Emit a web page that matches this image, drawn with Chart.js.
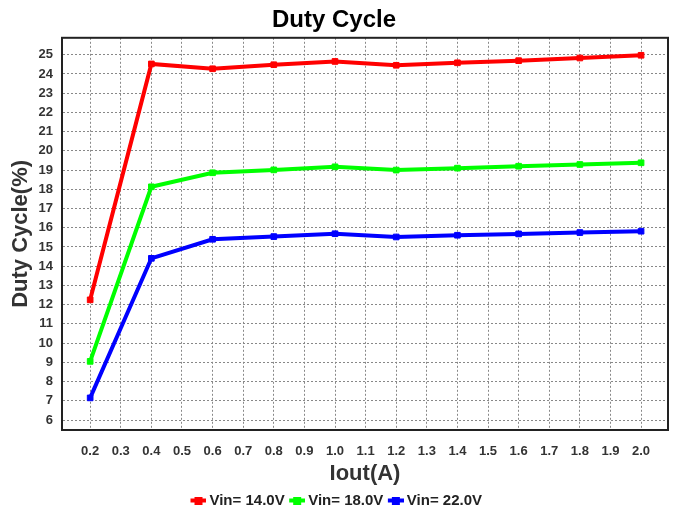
<!DOCTYPE html>
<html>
<head>
<meta charset="utf-8">
<script src="https://cdn.jsdelivr.net/npm/chart.js@4"></script>
<style>
  html, body { margin: 0; padding: 0; background: #fff; }
  #wrap { width: 676px; height: 515px; }
</style>
</head>
<body>
<div id="wrap"><canvas id="chart-duty"></canvas></div>
<script>
// dados
const iout = [0.2, 0.4, 0.6, 0.8, 1.0, 1.2, 1.4, 1.6, 1.8, 2.0];
const vin14 = [12.25, 24.52, 24.27, 24.48, 24.65, 24.45, 24.58, 24.69, 24.83, 24.97];
const vin18 = [9.05, 18.13, 18.86, 19.01, 19.17, 19.0, 19.1, 19.2, 19.29, 19.38];
const vin22 = [7.15, 14.41, 15.4, 15.54, 15.69, 15.52, 15.61, 15.68, 15.75, 15.82];
const xTicks = [0.2, 0.3, 0.4, 0.5, 0.6, 0.7, 0.8, 0.9, 1.0, 1.1, 1.2, 1.3, 1.4, 1.5, 1.6, 1.7, 1.8, 1.9, 2.0];
const yTicks = [6, 7, 8, 9, 10, 11, 12, 13, 14, 15, 16, 17, 18, 19, 20, 21, 22, 23, 24, 25];

const FONT = "'Liberation Sans', Arial, sans-serif";

// marcador da legenda: linha com quadrado, encostado à direita da imagem
// (a imagem é mais larga que a caixa para aproximar o marcador do texto)
function legendMark(color) {
    const c = document.createElement('canvas');
    c.width = 25; c.height = 8;
    const g = c.getContext('2d');
    g.fillStyle = color;
    g.fillRect(9, 2, 16, 4);
    g.fillRect(13, 0, 8, 8);
    return c;
}

function serie(label, values, color) {
    return {
        label: label,
        data: iout.map((x, i) => ({ x: x, y: values[i] })),
        borderColor: color,
        backgroundColor: color,
        borderWidth: 4,
        pointStyle: 'rect',
        pointRadius: 4,
        pointBorderWidth: 1,
        pointHoverRadius: 4,
        tension: 0,
        legendMark: legendMark(color)
    };
}

// moldura completa da área do gráfico
const frame = {
    id: 'frame',
    afterDraw(chart) {
        const a = chart.chartArea, ctx = chart.ctx;
        ctx.save();
        ctx.strokeStyle = '#222';
        ctx.lineWidth = 2;
        ctx.strokeRect(a.left, a.top, a.right - a.left, a.bottom - a.top);
        ctx.restore();
    }
};

new Chart(document.getElementById('chart-duty'), {
    type: 'line',
    data: {
        datasets: [
            serie('Vin= 14.0V', vin14, '#ff0000'),
            serie('Vin= 18.0V', vin18, '#00ff00'),
            serie('Vin= 22.0V', vin22, '#0000ff')
        ]
    },
    options: {
        responsive: true,
        maintainAspectRatio: false,
        animation: false,
        layout: { padding: { left: 0, right: 8, top: 0, bottom: -3 } },
        plugins: {
            title: {
                display: true,
                text: 'Duty Cycle',
                color: '#000',
                font: { family: FONT, size: 24, weight: 'bold' },
                padding: { top: 6, bottom: 3 }
            },
            legend: {
                position: 'bottom',
                labels: {
                    color: '#222',
                    font: { family: FONT, size: 15, weight: 'bold' },
                    usePointStyle: true,
                    pointStyleWidth: 16,
                    padding: 0,
                    generateLabels(chart) {
                        return chart.data.datasets.map((ds, i) => ({
                            text: ds.label,
                            pointStyle: ds.legendMark,
                            fillStyle: ds.borderColor,
                            strokeStyle: ds.borderColor,
                            fontColor: '#222',
                            lineWidth: 0,
                            datasetIndex: i
                        }));
                    }
                }
            },
            tooltip: { enabled: false }
        },
        scales: {
            x: {
                type: 'linear',
                min: 0.108,
                max: 2.088,
                afterBuildTicks(scale) { scale.ticks = xTicks.map(v => ({ value: v })); },
                afterFit(scale) { scale.height = 63; },
                ticks: {
                    color: '#333',
                    font: { family: FONT, size: 13, weight: 'bold' },
                    padding: 14,
                    maxRotation: 0,
                    autoSkip: false,
                    callback: v => Number(v).toFixed(1)
                },
                grid: { color: '#888', lineWidth: 1, drawTicks: false },
                border: { display: true, color: '#222', width: 2, dash: [2, 2] },
                title: {
                    display: true,
                    text: 'Iout(A)',
                    color: '#333',
                    font: { family: FONT, size: 22, weight: 'bold' },
                    padding: { top: 2, bottom: 6 }
                }
            },
            y: {
                type: 'linear',
                min: 5.48,
                max: 25.88,
                afterBuildTicks(scale) { scale.ticks = yTicks.map(v => ({ value: v })); },
                afterFit(scale) { scale.width = 62; },
                ticks: {
                    color: '#333',
                    font: { family: FONT, size: 13, weight: 'bold' },
                    padding: 9,
                    autoSkip: false
                },
                grid: { color: '#888', lineWidth: 1, drawTicks: false },
                border: { display: true, color: '#222', width: 2, dash: [2, 2] },
                title: {
                    display: true,
                    text: 'Duty Cycle(%)',
                    color: '#333',
                    font: { family: FONT, size: 22, weight: 'bold' },
                    padding: { top: 8, bottom: 0 }
                }
            }
        }
    },
    plugins: [frame]
});
</script>
</body>
</html>
